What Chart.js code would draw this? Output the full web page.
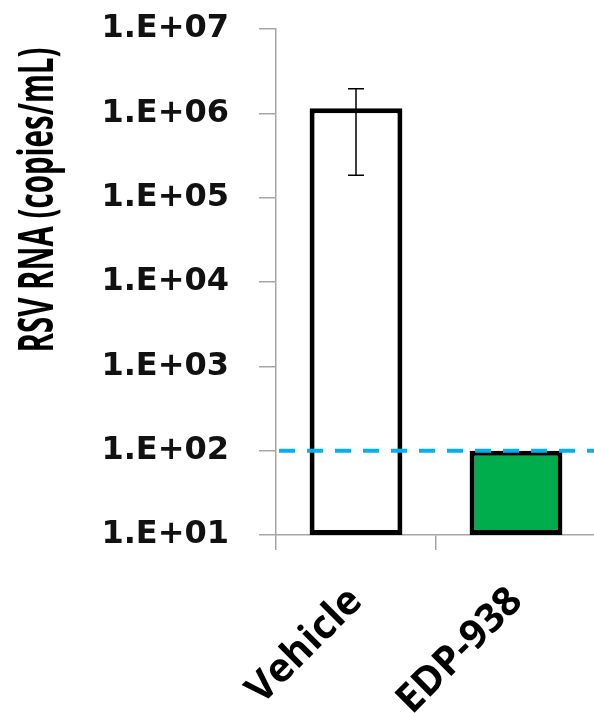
<!DOCTYPE html>
<html>
<head>
<meta charset="utf-8">
<script src="https://cdn.jsdelivr.net/npm/chart.js@4.4.1/dist/chart.umd.min.js"></script>
<style>
  html, body { margin: 0; padding: 0; background: #fff; overflow: hidden; }
  #wrap { width: 600px; height: 713px; }
</style>
</head>
<body>
<div id="wrap"><canvas id="chart" width="600" height="713"></canvas></div>
<script>
// Data
const categories = ["Vehicle", "EDP-938"];
const means = [1.15e6, 100];
const errLow = [1.85e5, null];
const errHigh = [1.95e6, null];
const tickValues = [1e1, 1e2, 1e3, 1e4, 1e5, 1e6, 1e7];
const tickLabels = ["1.E+01", "1.E+02", "1.E+03", "1.E+04", "1.E+05", "1.E+06", "1.E+07"];
const detectionLimit = 100;
const yTitle = "RSV RNA (copies/mL)";

const barColors = ["#ffffff", "#00ad4d"];
const axisGray = "#a6a6a6";

// error bars on top of the bars
const errorBars = {
  id: "errorBars",
  afterDatasetsDraw(chart) {
    const { ctx, scales: { y } } = chart;
    const meta = chart.getDatasetMeta(0);
    ctx.save();
    ctx.strokeStyle = "#000";
    ctx.lineWidth = 1.5;
    meta.data.forEach((bar, i) => {
      if (errLow[i] == null) return;
      const top = y.getPixelForValue(errHigh[i]);
      const bot = y.getPixelForValue(errLow[i]);
      ctx.beginPath();
      ctx.moveTo(bar.x, top);
      ctx.lineTo(bar.x, bot);
      ctx.moveTo(bar.x - 8, top);
      ctx.lineTo(bar.x + 8, top);
      ctx.moveTo(bar.x - 8, bot);
      ctx.lineTo(bar.x + 8, bot);
      ctx.stroke();
    });
    ctx.restore();
  }
};

// dashed limit-of-detection line
const lodLine = {
  id: "lodLine",
  afterDatasetsDraw(chart) {
    const { ctx, chartArea, scales: { y } } = chart;
    const py = y.getPixelForValue(detectionLimit);
    ctx.save();
    ctx.strokeStyle = "#00b0f0";
    ctx.lineWidth = 4;
    ctx.setLineDash([16, 12]);
    ctx.beginPath();
    ctx.moveTo(chartArea.left + 3, py);
    ctx.lineTo(chartArea.right + 4, py);
    ctx.stroke();
    ctx.restore();
  }
};

// y axis title, placed like in the figure
const yTitlePlugin = {
  id: "yTitle",
  afterDraw(chart) {
    const { ctx } = chart;
    ctx.save();
    ctx.font = "bold 48px 'Open Sans'";
    ctx.fillStyle = "#000";
    ctx.textAlign = "center";
    ctx.textBaseline = "alphabetic";
    ctx.translate(53, 200);
    ctx.rotate(-Math.PI / 2);
    const w = ctx.measureText(yTitle).width;
    ctx.scale(305 / w, 1);
    ctx.fillText(yTitle, 0, 0);
    ctx.restore();
  }
};

new Chart(document.getElementById("chart"), {
  type: "bar",
  data: {
    labels: categories,
    datasets: [{
      data: means,
      backgroundColor: barColors,
      borderColor: "#000",
      borderWidth: 5,
      borderSkipped: false,
      categoryPercentage: 1,
      barPercentage: 0.58
    }]
  },
  options: {
    responsive: false,
    animation: false,
    layout: { padding: { top: 29, right: 4, left: 0, bottom: 0 } },
    plugins: {
      legend: { display: false },
      tooltip: { enabled: false }
    },
    scales: {
      x: {
        grid: {
          offset: true,
          drawOnChartArea: false,
          color: axisGray,
          lineWidth: 1.5,
          tickLength: 15
        },
        border: { color: axisGray, width: 1.5 },
        ticks: {
          autoSkip: false,
          maxRotation: 45,
          minRotation: 45,
          padding: 28,
          color: "#000",
          font: { family: "'Open Sans'", weight: "bold", size: 40 }
        },
        afterFit(scale) {
          scale.height = 713 - 535;
          scale.paddingLeft = 0;
          scale.paddingRight = 0;
        }
      },
      y: {
        type: "logarithmic",
        min: 10,
        max: 1e7,
        grid: {
          drawOnChartArea: false,
          color: axisGray,
          lineWidth: 1.5,
          tickLength: 17
        },
        border: { color: axisGray, width: 1.5 },
        afterBuildTicks(scale) {
          scale.ticks = tickValues.map(v => ({ value: v }));
        },
        ticks: {
          padding: 30,
          color: "#111",
          font: { family: "'DejaVu Sans'", weight: "bold", size: 32 },
          callback: (v, i) => tickLabels[i]
        },
        afterFit(scale) {
          scale.width = 276;
          scale.paddingTop = 0;
          scale.paddingBottom = 0;
        }
      }
    }
  },
  plugins: [errorBars, lodLine, yTitlePlugin]
});
</script>
</body>
</html>
